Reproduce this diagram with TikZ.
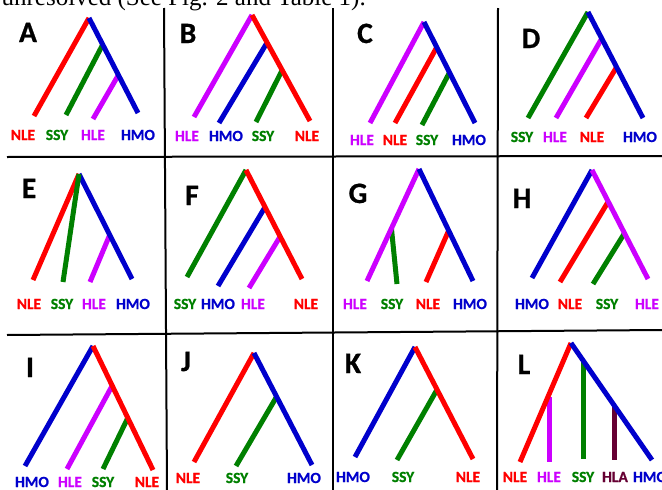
\documentclass[tikz,border=0pt]{standalone}
\usepackage{fontspec}
\setmainfont{Carlito}
\newfontfamily\heavyfont{Carlito}[UprightFont={* Bold}, FakeBold=0.8]
\newfontfamily\capfont{Liberation Serif}
\usetikzlibrary{calc}
\definecolor{cR}{HTML}{FF0000}
\definecolor{cG}{HTML}{008000}
\definecolor{cP}{HTML}{CC00FF}
\definecolor{cB}{HTML}{0000CC}
\definecolor{cM}{HTML}{660033}
\begin{document}
\begin{tikzpicture}[x=1pt,y=-1pt,
  br/.style={line width=5pt},
  lab/.style={font=\heavyfont\fontsize{15.5}{16}\selectfont, inner sep=0pt, anchor=base},
  ttl/.style={font=\heavyfont\fontsize{29.5}{30}\selectfont, inner sep=0pt, anchor=base},
  gridline/.style={line width=2pt, black}]
\useasboundingbox (0,0) rectangle (662,490);
\fill[white] (0,0) rectangle (662,490);
\begin{scope}
\clip (0,0) rectangle (662,490);
\node[anchor=base east, font=\capfont\fontsize{25}{26}\selectfont, inner sep=0pt] (cap) at (366,5) {unresolved (See Fig. 2 and Table 1).};
% grid
\draw[gridline] (7,157) -- (662,156);
\draw[gridline] (7,335) -- (662,330);
\draw[gridline] (164,8) -- (167,490);
\draw[gridline] (333,8) -- (333,490);
\draw[gridline] (498,8) -- (497,490);

% ---------- A ----------
\node[ttl] (tA) at (28,42) {A};
\coordinate (a0) at (89,18);
\coordinate (a1) at (34,116);
\coordinate (a6) at (138,113);
\coordinate (a2) at ($(a0)!0.28!(a6)$);
\coordinate (a3) at (66,115);
\coordinate (a4) at ($(a0)!0.60!(a6)$);
\coordinate (a5) at (93,119);
\draw[br,cR] (a0) -- (a1);
\draw[br,cG] (a2) -- (a3);
\draw[br,cP] (a4) -- (a5);
\draw[br,cB] (a0) -- (a6);
\node[lab,cR] (la1) at (23,140) {NLE};
\node[lab,cG] (la2) at (57,140) {SSY};
\node[lab,cP] (la3) at (93,140) {HLE};
\node[lab,cB] (la4) at (138,140) {HMO};

% ---------- B ----------
\node[ttl] (tB) at (188,43) {B};
\coordinate (b0) at (252,15);
\coordinate (b1) at (194,117);
\coordinate (b6) at (310,121);
\coordinate (b2) at ($(b0)!0.26!(b6)$);
\coordinate (b3) at (219,123);
\coordinate (b4) at ($(b0)!0.52!(b6)$);
\coordinate (b5) at (256,122);
\draw[br,cP] (b0) -- (b1);
\draw[br,cB] (b2) -- (b3);
\draw[br,cG] (b4) -- (b5);
\draw[br,cR] (b0) -- (b6);
\node[lab,cP] (lb1) at (187,141) {HLE};
\node[lab,cB] (lb2) at (226,141) {HMO};
\node[lab,cG] (lb3) at (263,141) {SSY};
\node[lab,cR] (lb4) at (307,141) {NLE};

% ---------- C ----------
\node[ttl] (tC) at (365,43) {C};
\coordinate (c0) at (424,22);
\coordinate (c1) at (370,123);
\coordinate (c6) at (475,123);
\coordinate (c2) at ($(c0)!0.25!(c6)$);
\coordinate (c3) at (395,123);
\coordinate (c4) at ($(c0)!0.50!(c6)$);
\coordinate (c5) at (422,125);
\draw[br,cP] (c0) -- (c1);
\draw[br,cR] (c2) -- (c3);
\draw[br,cG] (c4) -- (c5);
\draw[br,cB] (c0) -- (c6);
\node[lab,cP] (lc1) at (362,145) {HLE};
\node[lab,cR] (lc2) at (395,145) {NLE};
\node[lab,cG] (lc3) at (427,145) {SSY};
\node[lab,cB] (lc4) at (469,145) {HMO};

% ---------- D ----------
\node[ttl] (tD) at (531,48) {D};
\coordinate (d0) at (588,12);
\coordinate (d1) at (528,118);
\coordinate (d6) at (643,118);
\coordinate (d2) at ($(d0)!0.25!(d6)$);
\coordinate (d3) at (556,118);
\coordinate (d4) at ($(d0)!0.52!(d6)$);
\coordinate (d5) at (586,118);
\draw[br,cG] (d0) -- (d1);
\draw[br,cP] (d2) -- (d3);
\draw[br,cR] (d4) -- (d5);
\draw[br,cB] (d0) -- (d6);
\node[lab,cG] (ld1) at (522,142) {SSY};
\node[lab,cP] (ld2) at (555,142) {HLE};
\node[lab,cR] (ld3) at (592,142) {NLE};
\node[lab,cB] (ld4) at (640,142) {HMO};

% ---------- E ----------
\node[ttl] (tE) at (29,198) {E};
\coordinate (e0) at (79,174);
\coordinate (e1) at (33,280);
\coordinate (e2) at (63,282);
\coordinate (e6) at (132,279);
\coordinate (e4) at ($(e0)!0.58!(e6)$);
\coordinate (e5) at (90,282);
\draw[br,cR] (e0) -- (e1);
\draw[br,cP] (e4) -- (e5);
\draw[br,cB] (e0) -- (e6);
\draw[br,cG] (e0) -- (e2);
\node[lab,cR] (le1) at (29,309) {NLE};
\node[lab,cG] (le2) at (62,309) {SSY};
\node[lab,cP] (le3) at (94,309) {HLE};
\node[lab,cB] (le4) at (133,309) {HMO};

% ---------- F ----------
\node[ttl] (tF) at (192,205) {F};
\coordinate (f0) at (246,170);
\coordinate (f1) at (187,277);
\coordinate (f6) at (302,279);
\coordinate (f2) at ($(f0)!0.34!(f6)$);
\coordinate (f3) at (218,286);
\coordinate (f4) at ($(f0)!0.61!(f6)$);
\coordinate (f5) at (249,288);
\draw[br,cG] (f0) -- (f1);
\draw[br,cB] (f2) -- (f3);
\draw[br,cP] (f4) -- (f5);
\draw[br,cR] (f0) -- (f6);
\node[lab,cG] (lf1) at (185,309) {SSY};
\node[lab,cB] (lf2) at (218,309) {HMO};
\node[lab,cP] (lf3) at (253,309) {HLE};
\node[lab,cR] (lf4) at (306,309) {NLE};

% ---------- G ----------
\node[ttl] (tG) at (358,203) {G};
\coordinate (g0) at (419,169);
\coordinate (g1) at (367,281);
\coordinate (g6) at (473,281);
\coordinate (g2) at ($(g0)!0.53!(g1)$);
\coordinate (g3) at (397,284);
\coordinate (g4) at ($(g0)!0.55!(g6)$);
\coordinate (g5) at (426,282);
\draw[br,cG] (g2) -- (g3);
\draw[br,cP] (g0) -- (g1);
\draw[br,cR] (g4) -- (g5);
\draw[br,cB] (g0) -- (g6);
\node[lab,cP] (lg1) at (355,309) {HLE};
\node[lab,cG] (lg2) at (392,309) {SSY};
\node[lab,cR] (lg3) at (428,309) {NLE};
\node[lab,cB] (lg4) at (470,309) {HMO};

% ---------- H ----------
\node[ttl] (tH) at (522,208) {H};
\coordinate (h0) at (592,170);
\coordinate (h1) at (532,278);
\coordinate (h6) at (648,279);
\coordinate (h2) at ($(h0)!0.29!(h6)$);
\coordinate (h3) at (560,282);
\coordinate (h4) at ($(h0)!0.58!(h6)$);
\coordinate (h5) at (593,284);
\draw[br,cB] (h0) -- (h1);
\draw[br,cR] (h2) -- (h3);
\draw[br,cG] (h4) -- (h5);
\draw[br,cP] (h0) -- (h6);
\node[lab,cB] (lh1) at (532,309) {HMO};
\node[lab,cR] (lh2) at (570,309) {NLE};
\node[lab,cG] (lh3) at (607,309) {SSY};
\node[lab,cP] (lh4) at (647,309) {HLE};

% ---------- I ----------
\node[ttl] (tI) at (30,377) {I};
\coordinate (i0) at (93,346);
\coordinate (i1) at (25,466);
\coordinate (i6) at (153,470);
\coordinate (i2) at ($(i0)!0.32!(i6)$);
\coordinate (i3) at (67,469);
\coordinate (i4) at ($(i0)!0.58!(i6)$);
\coordinate (i5) at (103,469);
\draw[br,cB] (i0) -- (i1);
\draw[br,cP] (i2) -- (i3);
\draw[br,cG] (i4) -- (i5);
\draw[br,cR] (i0) -- (i6);
\node[lab,cB] (li1) at (32,487) {HMO};
\node[lab,cP] (li2) at (70,487) {HLE};
\node[lab,cG] (li3) at (103,487) {SSY};
\node[lab,cR] (li4) at (147,487) {NLE};

% ---------- J ----------
\node[ttl] (tJ) at (186,371) {J};
\coordinate (j0) at (254,353);
\coordinate (j1) at (194,462);
\coordinate (j6) at (312,465);
\coordinate (j2) at ($(j0)!0.39!(j6)$);
\coordinate (j3) at (236,466);
\draw[br,cR] (j0) -- (j1);
\draw[br,cG] (j2) -- (j3);
\draw[br,cB] (j0) -- (j6);
\node[lab,cR] (lj1) at (188,483) {NLE};
\node[lab,cG] (lj2) at (237,483) {SSY};
\node[lab,cB] (lj3) at (304,483) {HMO};

% ---------- K ----------
\node[ttl] (tK) at (353,373) {K};
\coordinate (k0) at (415,347);
\coordinate (k1) at (355,457);
\coordinate (k6) at (473,459);
\coordinate (k2) at ($(k0)!0.38!(k6)$);
\coordinate (k3) at (397,460);
\draw[br,cB] (k0) -- (k1);
\draw[br,cG] (k2) -- (k3);
\draw[br,cR] (k0) -- (k6);
\node[lab,cB] (lk1) at (353,482) {HMO};
\node[lab,cG] (lk2) at (403,482) {SSY};
\node[lab,cR] (lk3) at (468,482) {NLE};

% ---------- L ----------
\node[ttl] (tL) at (524,374) {L};
\coordinate (l0) at (571,343);
\coordinate (l1) at (520,462);
\coordinate (l6) at (652,460);
\coordinate (l2) at (549,397);
\coordinate (l3) at (549,462);
\coordinate (l4) at (583,361);
\coordinate (l5) at (583,459);
\coordinate (l7) at (614,406);
\coordinate (l8) at (614,460);
\draw[br,cP] (l2) -- (l3);
\draw[br,cG] (l4) -- (l5);
\draw[br,cM] (l7) -- (l8);
\draw[br,cR] (l0) -- (l1);
\draw[br,cB] (l0) -- (l6);
\node[lab,cR] (ll1) at (515,482) {NLE};
\node[lab,cP] (ll2) at (549,482) {HLE};
\node[lab,cG] (ll3) at (583,482) {SSY};
\node[lab,cM] (ll4) at (615,482) {HLA};
\node[lab,cB] (ll5) at (650,482) {HMO};
\end{scope}
\end{tikzpicture}
\end{document}
